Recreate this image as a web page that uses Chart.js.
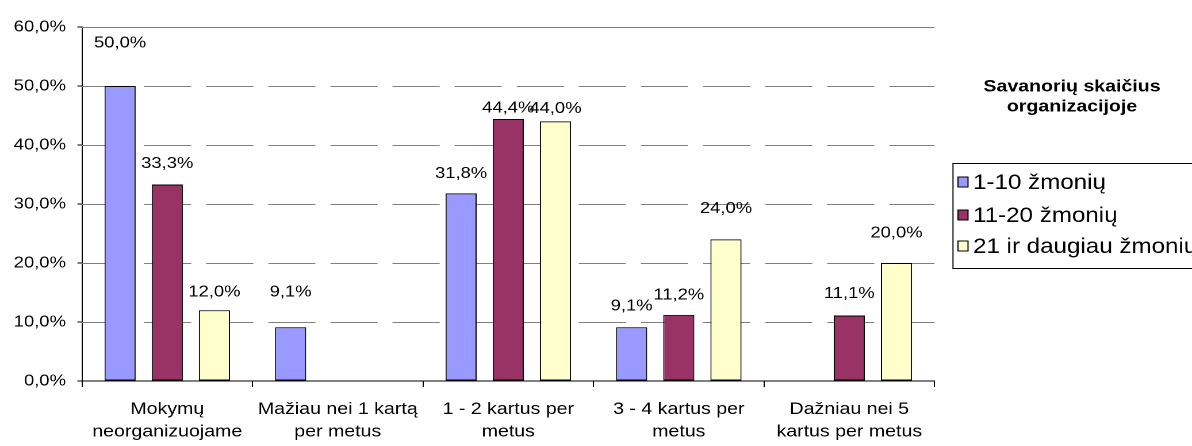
<!DOCTYPE html>
<html>
<head>
<meta charset="utf-8">
<script src="https://cdn.jsdelivr.net/npm/chart.js@4/dist/chart.umd.min.js"></script>
<style>
    html, body { margin: 0; padding: 0; background: #fff; overflow: hidden; }
    #wrap { width: 1192px; height: 446px; overflow: hidden; }
    #chart { transform: scaleX(1.15); transform-origin: 0 0; display: block; }
</style>
</head>
<body>
<div id="wrap"><canvas id="chart" width="1037" height="446"></canvas></div>
<script>
const categories = [
    ["Mokymų", "neorganizuojame"],
    ["Mažiau nei 1 kartą", "per metus"],
    ["1 - 2 kartus per", "metus"],
    ["3 - 4 kartus per", "metus"],
    ["Dažniau nei 5", "kartus per metus"]
];
const seriesNames = ["1-10 žmonių", "11-20 žmonių", "21 ir daugiau žmonių"];
const small = [50.0, 9.1, 31.8, 9.1, null];
const medium = [33.3, null, 44.4, 11.2, 11.1];
const large = [12.0, null, 44.0, 24.0, 20.0];
const yTicks = [0, 10, 20, 30, 40, 50, 60];
const legendTitle = ["Savanorių skaičius", "organizacijoje"];

// how far each value label sits above its bar (px), as in the picture
const labelLift = [
    [43, 35, 20, 21, 0],
    [21, 0, 11, 20, 22],
    [18, 0, 13, 31, 30]
];

const S = 1.15; // the picture is stretched sideways
const W = 1192 / S;
const FONT = "'Liberation Sans', Arial, sans-serif";
const colors = ["#9999FF", "#993366", "#FFFFCC"];

function pct(v) {
    return v.toFixed(1).replace(".", ",") + "%";
}

// dashed gridlines across the plot, the top one solid
const dashedGrid = {
    id: "dashedGrid",
    beforeDatasetsDraw(chart) {
        const ctx = chart.ctx;
        const area = chart.chartArea;
        const yScale = chart.scales.y;
        ctx.save();
        ctx.strokeStyle = "#808080";
        ctx.lineWidth = 1;
        yScale.ticks.forEach(t => {
            if (t.value <= 0) return;
            const y = Math.round(yScale.getPixelForValue(t.value)) + 0.5;
            ctx.setLineDash(t.value === 60 ? [] : [41, 13]);
            ctx.beginPath();
            ctx.moveTo(area.left, y);
            ctx.lineTo(area.right, y);
            ctx.stroke();
        });
        ctx.restore();
    }
};

const valueLabels = {
    id: "valueLabels",
    afterDatasetsDraw(chart) {
        const ctx = chart.ctx;
        ctx.save();
        ctx.font = "16px " + FONT;
        ctx.fillStyle = "#000";
        ctx.textAlign = "center";
        ctx.textBaseline = "middle";
        chart.data.datasets.forEach((ds, di) => {
            const meta = chart.getDatasetMeta(di);
            meta.data.forEach((bar, i) => {
                const v = ds.data[i];
                if (v == null) return;
                ctx.fillText(pct(v), bar.x, bar.y - labelLift[di][i]);
            });
        });
        ctx.restore();
    }
};

const sideLegend = {
    id: "sideLegend",
    afterDraw(chart) {
        const ctx = chart.ctx;
        ctx.save();
        ctx.fillStyle = "#000";
        ctx.textAlign = "center";
        ctx.textBaseline = "middle";
        ctx.font = "bold 17px " + FONT;
        ctx.fillText(legendTitle[0], 1072 / S, 87);
        ctx.fillText(legendTitle[1], 1072 / S, 107);

        ctx.strokeStyle = "#000";
        ctx.lineWidth = 1;
        ctx.strokeRect(953 / S, 163.5, W, 105);

        const rows = [182, 215, 246];
        ctx.textAlign = "left";
        ctx.font = "21px " + FONT;
        chart.data.datasets.forEach((ds, i) => {
            const y = rows[i];
            ctx.fillStyle = ds.backgroundColor;
            ctx.fillRect(958 / S, y - 5, 10 / S, 10);
            ctx.strokeRect(958 / S, y - 5, 10 / S, 10);
            ctx.fillStyle = "#000";
            ctx.fillText(ds.label, 973 / S, y + 1);
        });
        ctx.restore();
    }
};

new Chart(document.getElementById("chart"), {
    type: "bar",
    data: {
        labels: categories,
        datasets: [small, medium, large].map((d, i) => ({
            label: seriesNames[i],
            data: d,
            backgroundColor: colors[i],
            borderColor: "#000",
            borderWidth: 1,
            borderSkipped: false,
            categoryPercentage: 0.83,
            barPercentage: 0.66
        }))
    },
    options: {
        responsive: false,
        devicePixelRatio: 2,
        animation: false,
        layout: {
            padding: { left: 0, top: 27, right: W - 934 / S, bottom: 0 }
        },
        plugins: {
            legend: { display: false },
            tooltip: { enabled: false }
        },
        scales: {
            x: {
                afterFit(scale) { scale.height = 65; },
                border: { display: true, color: "#000", width: 1 },
                grid: {
                    display: true,
                    drawOnChartArea: false,
                    offset: true,
                    color: "#000",
                    tickLength: 6
                },
                ticks: {
                    color: "#000",
                    font: { family: FONT, size: 17, lineHeight: 1.32 },
                    padding: 11,
                    maxRotation: 0,
                    autoSkip: false
                }
            },
            y: {
                min: 0,
                max: 60,
                afterFit(scale) { scale.width = 82 / S; },
                afterBuildTicks(scale) {
                    scale.ticks = yTicks.map(v => ({ value: v }));
                },
                border: { display: true, color: "#000", width: 1 },
                grid: {
                    drawOnChartArea: false,
                    color: "#000",
                    tickLength: 4
                },
                ticks: {
                    color: "#000",
                    font: { family: FONT, size: 16 },
                    padding: 10,
                    callback: v => pct(v)
                }
            }
        }
    },
    plugins: [dashedGrid, valueLabels, sideLegend]
});
</script>
</body>
</html>
